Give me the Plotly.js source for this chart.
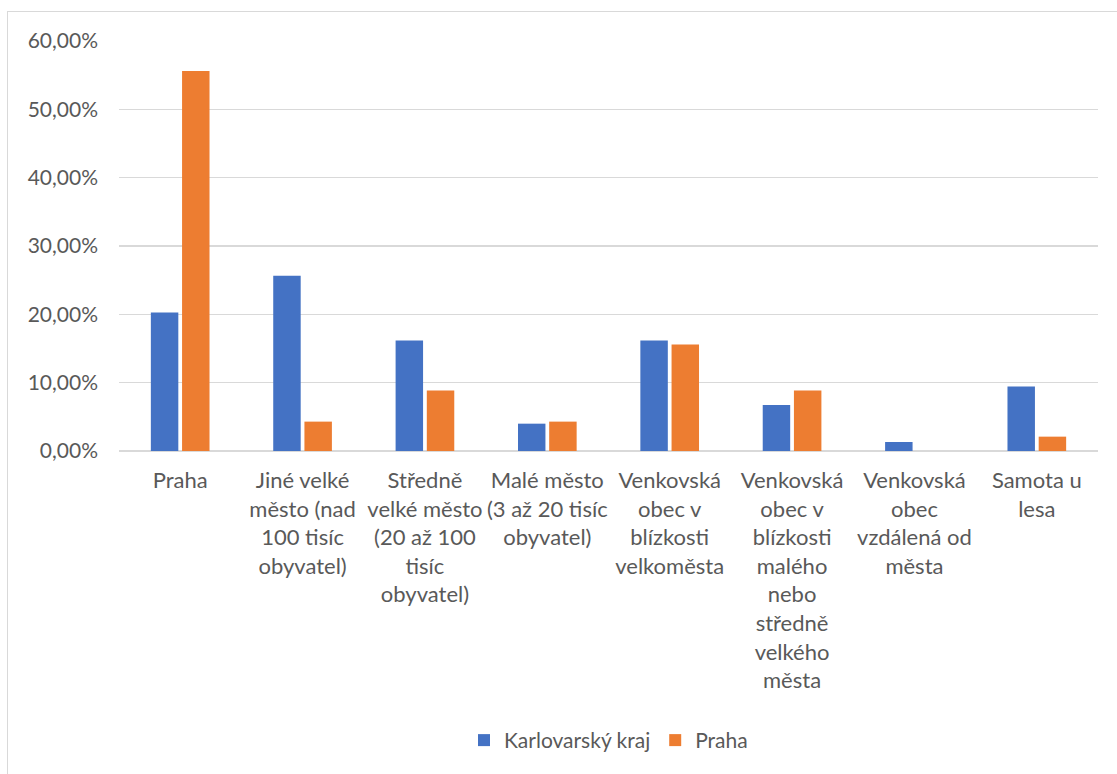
<!DOCTYPE html>
<html>
<head>
<meta charset="utf-8">
<script src="https://cdn.plot.ly/plotly-3.0.1.min.js"></script>
<style>
  html, body { margin: 0; padding: 0; background: #fff; }
  #wrap { position: relative; width: 1117px; height: 774px; overflow: hidden; }
  #frame { position: absolute; left: 7px; top: 11px; width: 1125px; height: 780px; border: 1px solid #d9d9d9; box-sizing: border-box; }
  #chart { position: absolute; left: 0; top: 0; width: 1117px; height: 774px; }
</style>
</head>
<body>
<div id="wrap">
  <div id="frame"></div>
  <div id="chart"></div>
</div>
<script>
const categories = [
  "Praha",
  "Jiné velké<br>město (nad<br>100 tisíc<br>obyvatel)",
  "Středně<br>velké město<br>(20 až 100<br>tisíc<br>obyvatel)",
  "Malé město<br>(3 až 20 tisíc<br>obyvatel)",
  "Venkovská<br>obec v<br>blízkosti<br>velkoměsta",
  "Venkovská<br>obec v<br>blízkosti<br>malého<br>nebo<br>středně<br>velkého<br>města",
  "Venkovská<br>obec<br>vzdálená od<br>města",
  "Samota u<br>lesa"
];
const karlovarsky = [0.2027, 0.2563, 0.1617, 0.0400, 0.1617, 0.0674, 0.0132, 0.0943];
const praha = [0.5560, 0.0430, 0.0885, 0.0430, 0.1558, 0.0885, 0.0, 0.0210];
const seriesNames = ["Karlovarský kraj", "Praha"];

const font = "Lato, 'Open Sans', sans-serif";
const textColor = "#595959";

const data = [
  { type: "bar", name: seriesNames[0], x: categories, y: karlovarsky,
    marker: { color: "#4472C4" }, hoverinfo: "skip" },
  { type: "bar", name: seriesNames[1], x: categories, y: praha,
    marker: { color: "#ED7D31" }, hoverinfo: "skip" }
];

const layout = {
  width: 1117, height: 774,
  paper_bgcolor: "rgba(0,0,0,0)", plot_bgcolor: "rgba(0,0,0,0)",
  margin: { l: 119, r: 19, t: 41, b: 323 },
  separators: ",.",
  barmode: "group", bargap: 0.49, bargroupgap: 0.12,
  font: { family: font, size: 21, color: textColor },
  xaxis: {
    type: "category", showgrid: false, showline: false, ticks: "",
    tickangle: 0, tickfont: { family: font, size: 22, color: textColor },
    ticklabelstandoff: 14,
    automargin: false
  },
  yaxis: {
    range: [0, 0.6], dtick: 0.1, tickformat: ".2%",
    showgrid: true, gridcolor: "#d9d9d9", gridwidth: 1.5,
    zeroline: true, zerolinecolor: "#d9d9d9", zerolinewidth: 1.5,
    showline: false, ticks: "", ticklen: 0,
    tickfont: { family: font, size: 21, color: textColor },
    ticklabelstandoff: 20,
    automargin: false
  },
  legend: {
    orientation: "h", x: 0.5, xanchor: "center", y: -0.706, yanchor: "middle",
    font: { family: font, size: 21, color: textColor },
    itemwidth: 30, traceorder: "normal"
  },
  showlegend: true
};

Plotly.newPlot("chart", data, layout, { staticPlot: true, displayModeBar: false });
</script>
</body>
</html>
